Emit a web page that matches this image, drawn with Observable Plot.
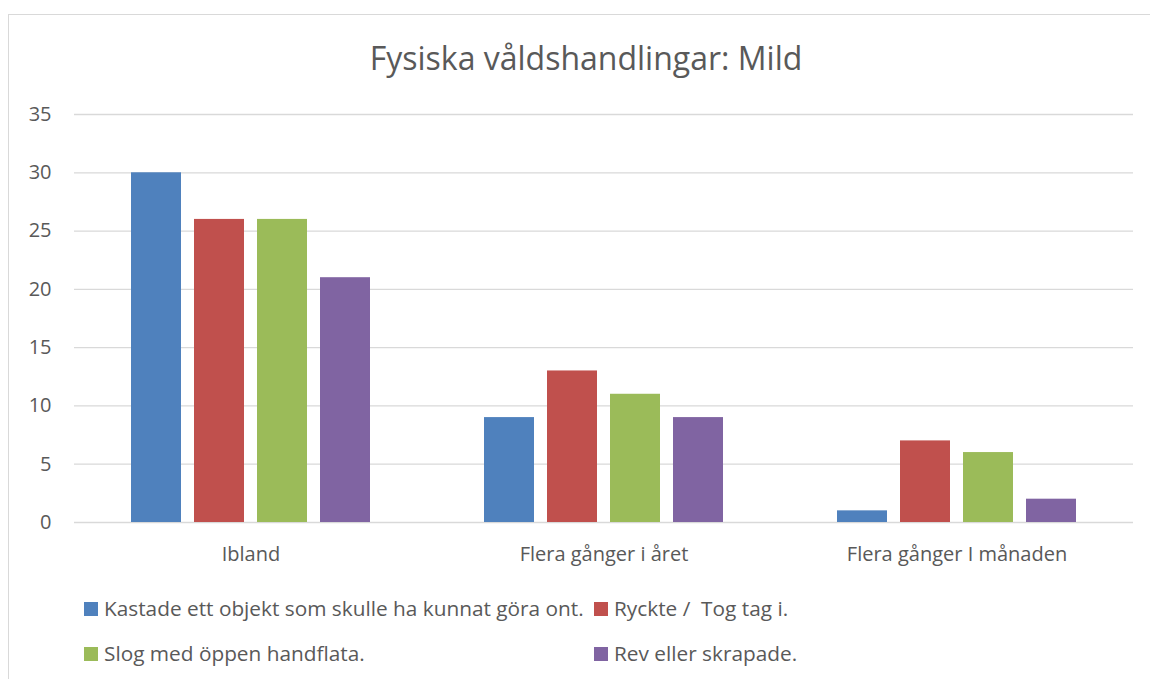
<!DOCTYPE html>
<html>
<head>
<meta charset="utf-8">
<script src="https://cdn.jsdelivr.net/npm/d3@7"></script>
<script src="https://cdn.jsdelivr.net/npm/@observablehq/plot@0.6"></script>
<style>
  html, body { margin: 0; padding: 0; background: #fff; }
  #wrap { position: relative; width: 1150px; height: 679px; overflow: hidden; font-family: "Open Sans", Lato, sans-serif; color: #595959; }
  #frame { position: absolute; left: 8px; top: 14px; width: 1300px; height: 800px; border: 1.5px solid #d9d9d9; box-sizing: border-box; }
  #title { position: absolute; left: 0; top: 37px; width: 1172px; text-align: center; font-size: 32px; line-height: 42px; }
  #chart { position: absolute; left: 0; top: 0; }
  #legend { position: absolute; left: 84px; top: 595px; display: grid; grid-template-columns: 510px auto; row-gap: 18px; font-size: 20.8px; line-height: 27px; }
  .item { display: flex; align-items: center; white-space: pre; }
  .sw { width: 14px; height: 14px; margin-right: 6px; flex: none; }
</style>
</head>
<body>
<div id="wrap">
  <div id="frame"></div>
  <div id="title"></div>
  <div id="chart"></div>
  <div id="legend"></div>
</div>
<script>
const title = "Fysiska våldshandlingar: Mild";
const categories = ["Ibland", "Flera gånger i året", "Flera gånger I månaden"];
const series = [
  "Kastade ett objekt som skulle ha kunnat göra ont.",
  "Ryckte /  Tog tag i.",
  "Slog med öppen handflata.",
  "Rev eller skrapade."
];
const kastade = [30, 9, 1];
const ryckte = [26, 13, 7];
const slog = [26, 11, 6];
const rev = [21, 9, 2];
const colors = ["#4f81bd", "#c0504d", "#9bbb59", "#8064a2"];
const yTicks = [0, 5, 10, 15, 20, 25, 30, 35];

const seriesValues = [kastade, ryckte, slog, rev];
const rows = categories.flatMap((cat, i) =>
  series.map((s, j) => ({cat, series: s, value: seriesValues[j][i]}))
);

document.getElementById("title").textContent = title;

const plot = Plot.plot({
  width: 1150,
  height: 679,
  marginLeft: 73,
  marginRight: 16,
  marginTop: 114,
  marginBottom: 157,
  fx: {domain: categories, padding: 0, label: null, tickSize: 0, tickPadding: 24.5},
  x: {domain: series, paddingInner: 0.203, paddingOuter: 0.865, axis: null},
  y: {domain: [0, 35], ticks: yTicks, tickSize: 0, tickPadding: 23, label: null},
  color: {domain: series, range: colors},
  style: {fontFamily: "'Open Sans', Lato, sans-serif", fontSize: "20px", color: "#595959", background: "transparent", overflow: "visible"},
  marks: [
    Plot.ruleY(yTicks, {y: d => d, stroke: "#d9d9d9", strokeWidth: 1.3}),
    Plot.barY(rows, {fx: "cat", x: "series", y: "value", fill: "series"})
  ]
});
document.getElementById("chart").appendChild(plot);

const legend = document.getElementById("legend");
series.forEach((s, i) => {
  const item = document.createElement("div");
  item.className = "item";
  const sw = document.createElement("span");
  sw.className = "sw";
  sw.style.background = colors[i];
  const label = document.createElement("span");
  label.textContent = s;
  item.appendChild(sw);
  item.appendChild(label);
  legend.appendChild(item);
});
</script>
</body>
</html>
